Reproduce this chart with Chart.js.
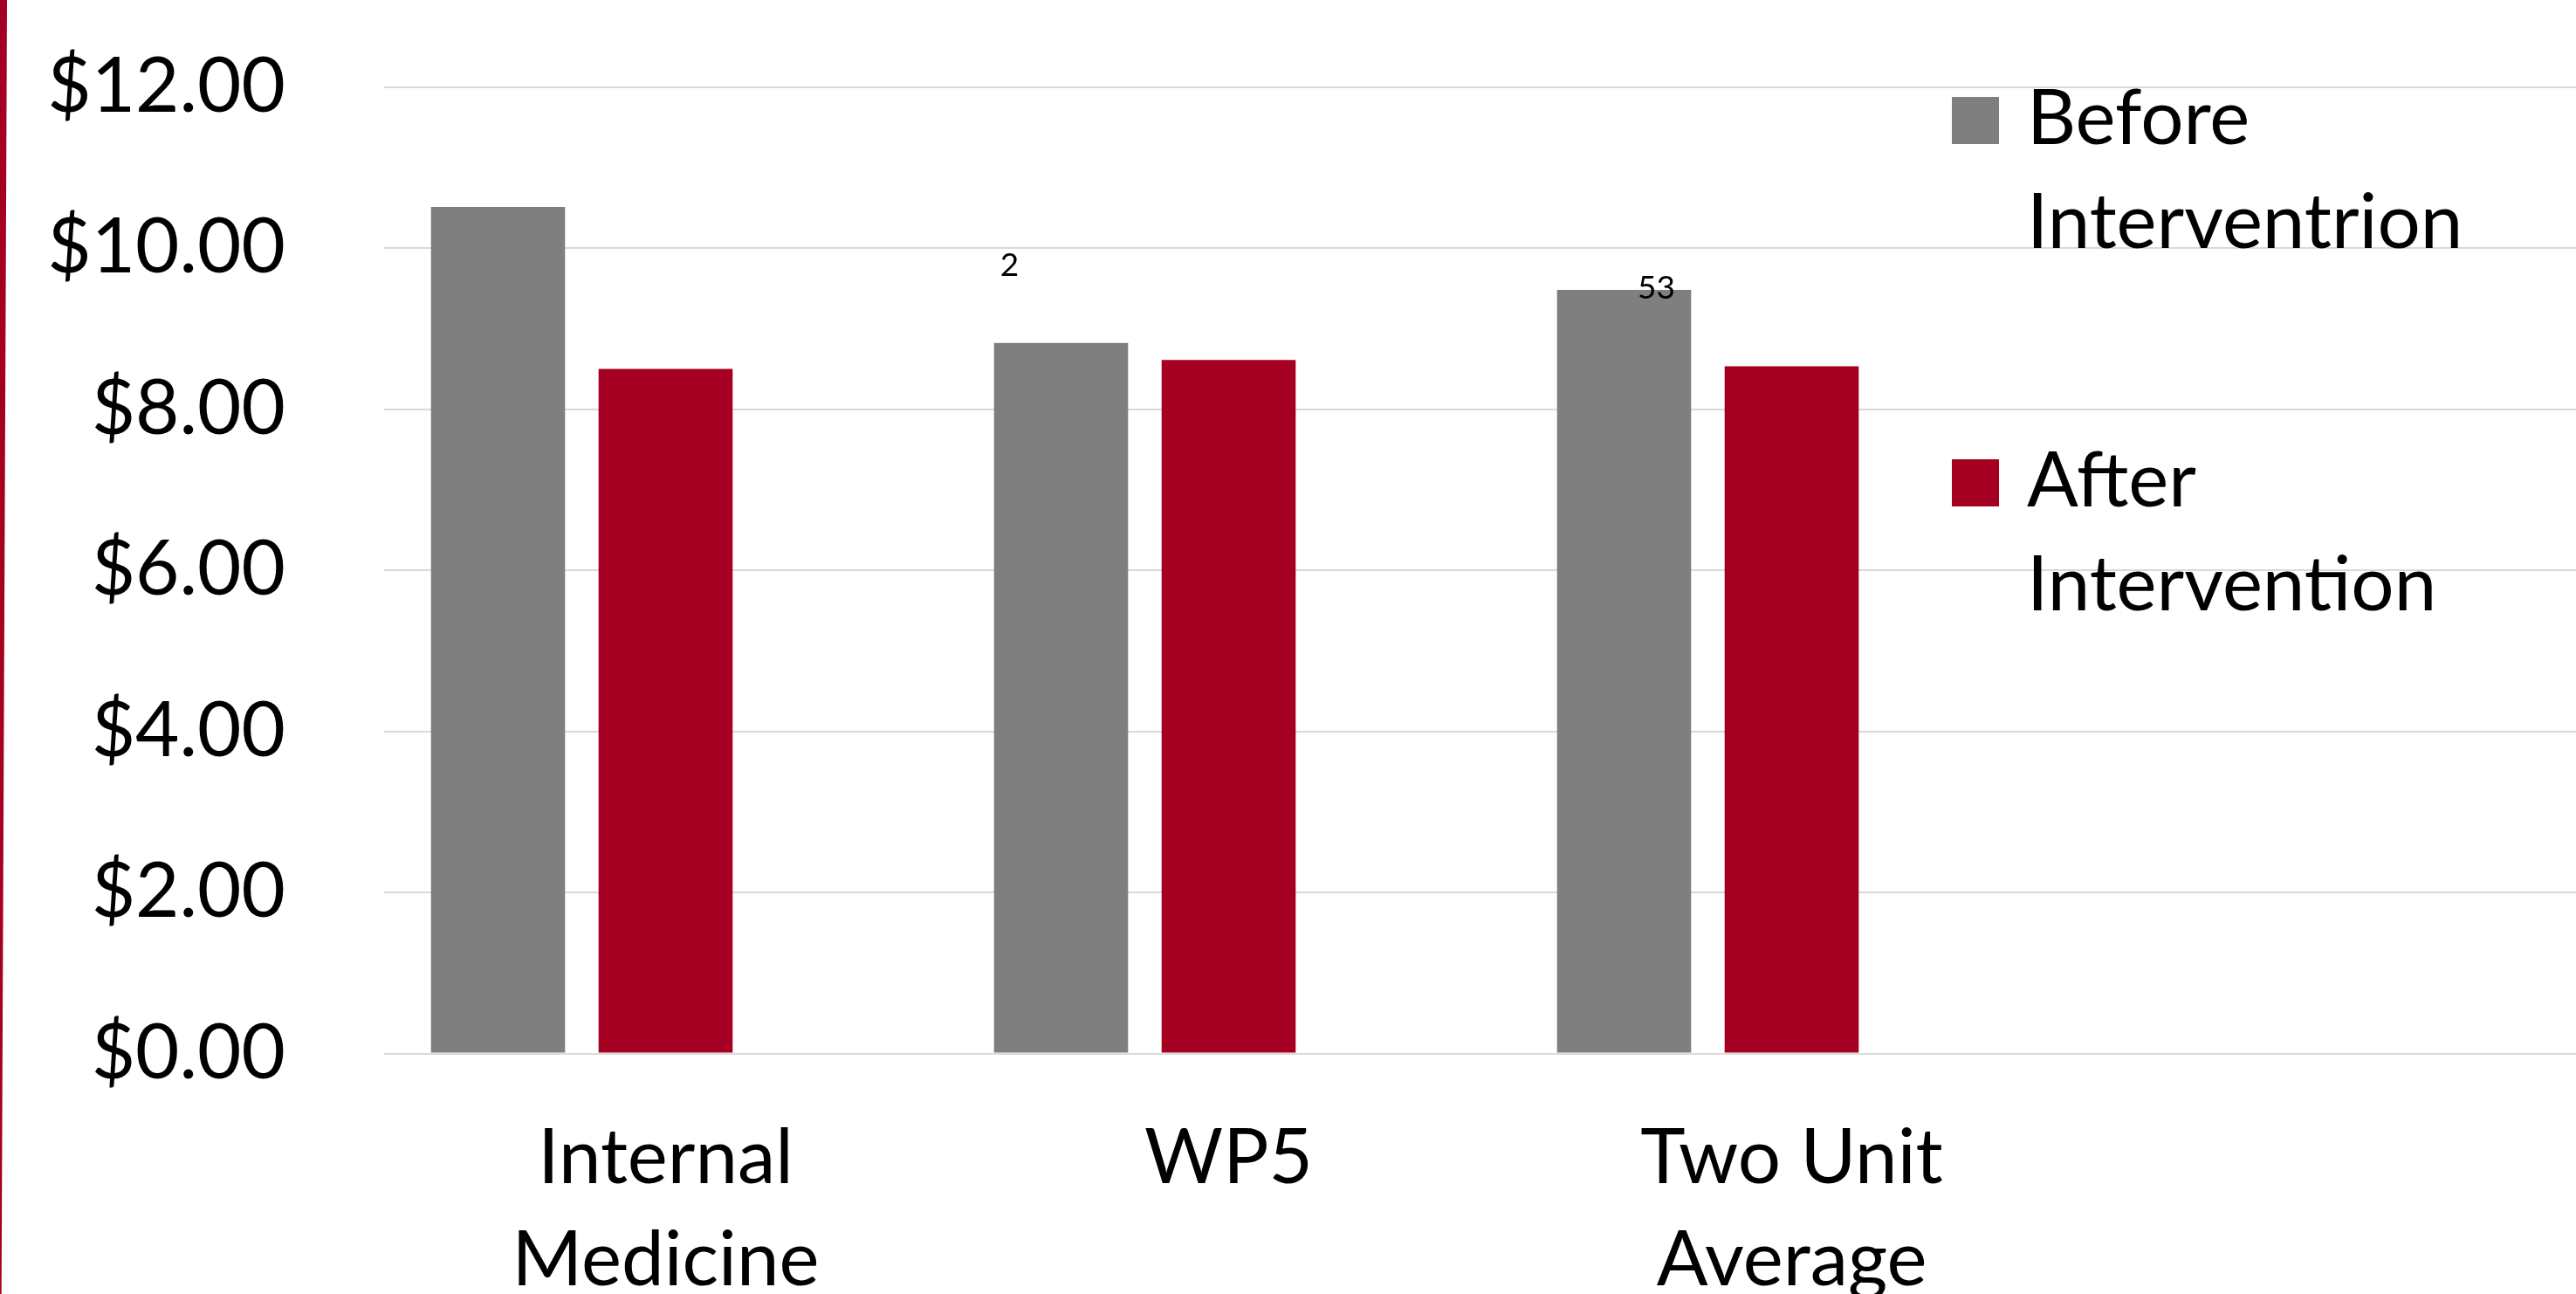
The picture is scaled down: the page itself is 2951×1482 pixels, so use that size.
<!DOCTYPE html>
<html>
<head>
<meta charset="utf-8">
<title>Cost per unit: before and after intervention</title>
<script src="https://cdn.jsdelivr.net/npm/chart.js@4.4.1/dist/chart.umd.min.js"></script>
<style>
  html, body { margin: 0; padding: 0; background: #ffffff; overflow: hidden; }
  #wrap { position: relative; width: 2951px; height: 1482px; overflow: hidden; background: #ffffff; }
  #wrap canvas { position: absolute; left: 0; top: 0; }
</style>
</head>
<body>
<div id="wrap"><canvas id="chart" width="3020" height="1482"></canvas></div>
<script>
// Units compared, one group of bars each
const categories = [['Internal', 'Medicine'], 'WP5', ['Two Unit', 'Average']];
// Cost values in dollars
const beforeValues = [10.51, 8.82, 9.48];
const afterValues = [8.50, 8.61, 8.53];
// Value axis
const yMin = 0;
const yMax = 12;
const yStep = 2;
// Series names as shown in the key
const beforeName = ['Before', 'Interventrion'];
const afterName = ['After', 'Intervention'];
// Loose text fragments over the bars
const fragmentTexts = ['2', '53'];

const GREY = '#7F7F7F';
const CRIMSON = '#A50021';
const GRID = '#D9D9D9';
const FONT = 'Lato, "Open Sans", sans-serif';

// One trailing empty slot keeps the right half of the plot free for the key
const axisLabels = categories.concat(['']);
const blankSlot = axisLabels.map(() => null);

const slideDecor = {
  id: 'slideDecor',
  beforeDraw(chart) {
    const ctx = chart.ctx;
    ctx.save();
    ctx.fillStyle = '#ffffff';
    ctx.fillRect(0, 0, chart.width, chart.height);
    // thin tapered accent bar down the left edge
    ctx.fillStyle = CRIMSON;
    ctx.beginPath();
    ctx.moveTo(0, 0);
    ctx.lineTo(8, 0);
    ctx.lineTo(1.7, chart.height);
    ctx.lineTo(0, chart.height);
    ctx.closePath();
    ctx.fill();
    ctx.restore();
  },
  afterDraw(chart) {
    const ctx = chart.ctx;
    const xs = chart.scales.x;
    const ys = chart.scales.y;
    ctx.save();

    // key on the right, two lines per entry
    const entries = [
      { color: GREY, lines: beforeName, top: 111 },
      { color: CRIMSON, lines: afterName, top: 526 }
    ];
    ctx.font = '87px ' + FONT;
    ctx.textAlign = 'left';
    ctx.textBaseline = 'alphabetic';
    entries.forEach(e => {
      ctx.fillStyle = e.color;
      ctx.fillRect(2236, e.top, 54, 54);
      ctx.fillStyle = '#000000';
      e.lines.forEach((line, i) => {
        ctx.fillText(line, 2322, e.top + 54 + i * 119);
      });
    });

    // small fragments above the WP5 and Two Unit Average groups
    ctx.font = '37px ' + FONT;
    ctx.textAlign = 'center';
    ctx.fillText(fragmentTexts[0], xs.getPixelForValue(1) - 251, ys.getPixelForValue(9.65));
    ctx.fillText(fragmentTexts[1], xs.getPixelForValue(2) - 155, ys.getPixelForValue(9.37));
    ctx.restore();
  }
};

new Chart(document.getElementById('chart'), {
  type: 'bar',
  data: {
    labels: axisLabels,
    datasets: [
      { label: beforeName.join(' '), data: beforeValues, backgroundColor: GREY, borderWidth: 0 },
      { label: afterName.join(' '), data: afterValues, backgroundColor: CRIMSON, borderWidth: 0 },
      { label: '', data: blankSlot, backgroundColor: 'rgba(0,0,0,0)', borderWidth: 0 }
    ]
  },
  options: {
    responsive: false,
    animation: false,
    events: [],
    layout: { padding: { top: 99.5, right: 0, bottom: 0, left: 0 } },
    datasets: {
      bar: { categoryPercentage: 0.893, barPercentage: 0.8 }
    },
    plugins: {
      legend: { display: false },
      tooltip: { enabled: false },
      title: { display: false }
    },
    scales: {
      x: {
        type: 'category',
        offset: true,
        grid: { display: false, drawTicks: false },
        border: { display: false },
        ticks: {
          color: '#000000',
          font: { family: FONT, size: 87, lineHeight: 1.345 },
          padding: 62,
          maxRotation: 0,
          minRotation: 0,
          autoSkip: false
        },
        afterFit(scale) { scale.height = 275.5; }
      },
      y: {
        min: yMin,
        max: yMax,
        grid: {
          color: GRID,
          lineWidth: 2,
          drawTicks: true,
          tickLength: 103,
          tickColor: 'rgba(0,0,0,0)'
        },
        border: { display: false },
        ticks: {
          stepSize: yStep,
          color: '#000000',
          font: { family: FONT, size: 87 },
          padding: 10,
          callback: v => '$' + Number(v).toFixed(2)
        },
        afterFit(scale) { scale.width = 440; }
      }
    }
  },
  plugins: [slideDecor]
});
</script>
</body>
</html>
